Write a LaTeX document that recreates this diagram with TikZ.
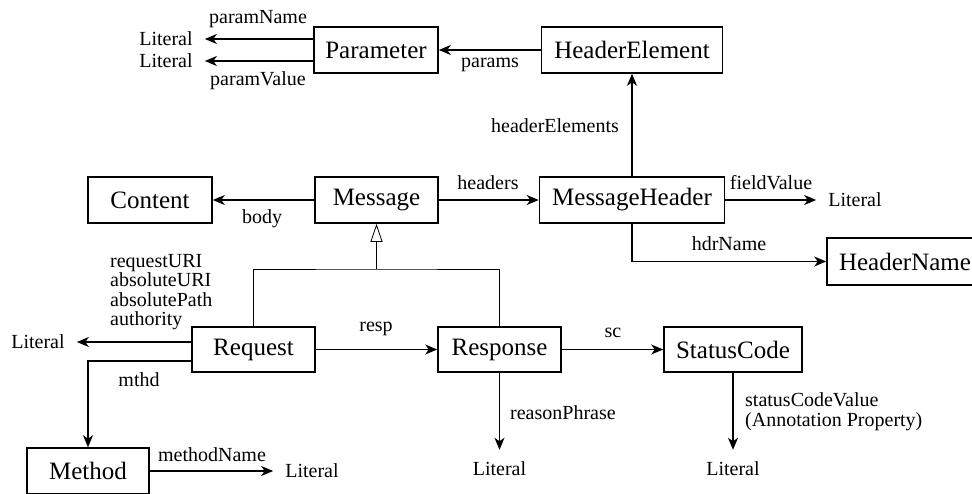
\documentclass[tikz,border=0pt]{standalone}
\usepackage{fontspec}
\setmainfont{Liberation Serif}
\usetikzlibrary{arrows.meta}
\tikzset{
  x=1pt, y=-1pt,
  box/.style={draw, line width=1.6pt, inner sep=0pt, minimum height=46pt, font=\fontsize{25}{28}\selectfont},
  lbl/.style={inner sep=0pt, font=\fontsize{20}{20}\selectfont},
  lit/.style={inner sep=12pt, font=\fontsize{20}{20}\selectfont},
  arr/.style={line width=1.2pt, -{Stealth[length=12pt,width=10pt,inset=3.5pt]}},
  gen/.style={line width=0.8pt},
}
\begin{document}
\begin{tikzpicture}
\clip (0,0) rectangle (972,493);
\fill[white] (0,0) rectangle (972,493);
% boxes
\node[box, minimum width=124pt] (Parameter) at (376,50) {Parameter};
\node[box, minimum width=181pt] (HeaderElement) at (632,50) {HeaderElement};
\node[box, minimum width=124pt] (Content) at (150,200) {Content};
\node[box, minimum width=123pt] (Message) at (376.5,200) {Message};
\node[box, minimum width=185pt] (MessageHeader) at (632,200) {MessageHeader};
\node[box, minimum width=156pt, minimum height=47pt] (HeaderName) at (905,261.5) {HeaderName};
\node[box, minimum width=123pt, minimum height=45pt] (Request) at (253.5,349.5) {Request};
\node[box, minimum width=123pt, minimum height=45pt] (Response) at (499.5,349.5) {Response};
\node[box, minimum width=138pt, minimum height=45pt] (StatusCode) at (733,349.5) {StatusCode};
\node[box, minimum width=122pt] (Method) at (88,471) {Method};
% literals
\node[lit] (L1) at (166,39) {Literal};
\node[lit] (L2) at (166,61) {Literal};
\node[lit] (L3) at (855,200) {Literal};
\node[lit] (L4) at (38,342) {Literal};
\node[lit] (L5) at (312,471) {Literal};
\node[lit] (L6) at (499.5,469) {Literal};
\node[lit] (L7) at (733,469) {Literal};
% connectors
\draw[arr] ([yshift=11pt]Parameter.west) -- (L1.east);
\draw[arr] ([yshift=-11pt]Parameter.west) -- (L2.east);
\draw[arr] (HeaderElement.west) -- (Parameter.east);
\draw[arr] (MessageHeader.north) -- (HeaderElement.south);
\draw[arr] (Message.west) -- (Content.east);
\draw[arr] (Message.east) -- (MessageHeader.west);
\draw[arr] (MessageHeader.east) -- (L3.west);
\draw[arr] (MessageHeader.south) |- (HeaderName.west);
\coordinate (g) at (376.5,269);
\draw[gen] (Request.north) |- (g) -| (Response.north);
\draw[gen, -{Triangle[open, length=18pt, width=12pt]}] (g) -- (Message.south);
\draw[arr] (Request.east) -- (Response.west);
\draw[arr] ([yshift=7.5pt]Request.west) -- (L4.east);
\draw[arr] ([yshift=-11.5pt]Request.west) -| (Method.north);
\draw[arr] (Method.east) -- (L5.west);
\draw[arr] (Response.south) -- (L6.north);
\draw[arr] (Response.east) -- (StatusCode.west);
\draw[arr] (StatusCode.south) -- (L7.north);
% labels
\node[lbl] (lparamName) at (258,19) {paramName};
\node[lbl] (lparamValue) at (258,81) {paramValue};
\node[lbl] (lparams) at (490,65) {params};
\node[lbl] (lheaderElements) at (555,126) {headerElements};
\node[lbl] (lbody) at (262,219) {body};
\node[lbl] (lheaders) at (488,183) {headers};
\node[lbl] (lfieldValue) at (771,183) {fieldValue};
\node[lbl] (lhdrName) at (729,244) {hdrName};
\node[lbl] (lresp) at (376,329) {resp};
\node[lbl] (lmthd) at (139,380) {mthd};
\node[lbl] (lmethodName) at (212,455) {methodName};
\node[lbl, anchor=west] (lreason) at (510,413) {reasonPhrase};
\node[lbl] (lsc) at (613,333) {sc};
\node[lbl, anchor=west, align=left, font=\fontsize{20}{19.3}\selectfont] (lreq) at (110,292) {requestURI\\absoluteURI\\absolutePath\\authority};
\node[lbl, anchor=west, align=left, font=\fontsize{20}{20}\selectfont] (lscv) at (745,412) {statusCodeValue\\(Annotation Property)};
\end{tikzpicture}
\end{document}
